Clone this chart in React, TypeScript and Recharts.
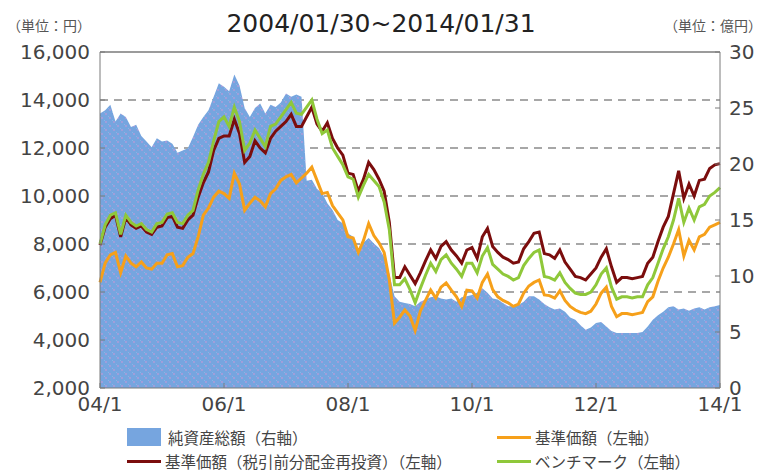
import { ComposedChart, Area, Line, XAxis, YAxis, CartesianGrid, ReferenceLine } from 'recharts';

// 純資産総額（億円）… 2004/1〜2014/1 の月次
const netAssets = [
  24.5, 24.8, 25.3, 23.8, 24.5, 24.2, 23.3, 23.5, 22.5, 22.0, 21.5, 22.3,
  22.0, 22.1, 21.8, 21.0, 21.2, 21.4, 22.4, 23.5, 24.2, 24.8, 26.0, 27.2,
  26.9, 26.5, 28.0, 27.0, 25.0, 24.2, 25.0, 25.4, 24.5, 25.3, 25.1, 25.5,
  26.3, 26.0, 26.2, 26.0, 18.5, 18.6, 17.8, 17.4, 16.5, 15.9, 15.0, 14.7,
  13.8, 13.5, 11.9, 13.0, 13.4, 12.9, 12.5, 11.7, 10.2, 8.2, 7.7, 7.6,
  7.5, 7.3, 7.7, 7.9, 8.1, 8.2, 8.0, 7.9, 8.0, 7.7, 8.1, 8.2,
  8.3, 8.5, 8.9, 8.5, 8.0, 7.9, 7.6, 7.3, 7.3, 7.4, 7.7, 8.2,
  8.2, 7.9, 7.5, 7.2, 7.0, 7.1, 6.8, 6.3, 6.1, 5.6, 5.2, 5.4,
  5.8, 5.9, 5.5, 5.1, 4.9, 4.9, 4.9, 4.9, 4.9, 5.0, 5.5, 6.1,
  6.5, 6.8, 7.2, 7.3, 7.0, 7.1, 6.9, 7.1, 7.2, 7.0, 7.2, 7.3,
  7.4,
];

// 基準価額（円）
const nav = [
  6400, 7200, 7550, 7650, 6800, 7500, 7200, 7050, 7250, 7000, 6950, 7200,
  7200, 7550, 7600, 7050, 7100, 7450, 7600, 8300, 9200, 9500, 9950, 10200,
  10100, 9900, 10950, 10500, 9400, 9700, 9950, 9800, 9550, 10100, 10300, 10650,
  10800, 10900, 10550, 10750, 10950, 11200, 10650, 10100, 10150, 9600, 9300, 9000,
  8300, 8250, 7650, 8150, 8850, 8350, 8050, 7650, 6500, 4700, 4950, 5250,
  5000, 4400, 5200, 5650, 6080, 5750, 6200, 6380, 6080, 5800, 5400, 6080,
  6050, 5750, 6400, 6750, 6100, 5800, 5650, 5550, 5400, 5500, 5950, 6250,
  6400, 6500, 5880, 5850, 5750, 6050, 5650, 5400, 5250, 5150, 5100, 5200,
  5500, 5950, 6200, 5400, 4970, 5100, 5100, 5050, 5100, 5150, 5600, 5800,
  6450, 7000, 7450, 8000, 8600, 7500, 8150, 7750, 8300, 8400, 8700, 8800,
  8900,
];

// 基準価額（税引前分配金再投資）（円）
const navReinvested = [
  7950, 8700, 9050, 9200, 8300, 9100, 8800, 8650, 8750, 8500, 8400, 8700,
  8750, 9100, 9150, 8700, 8650, 9000, 9200, 9950, 10550, 11000, 11900, 12400,
  12500, 12500, 13200, 12600, 11400, 11650, 12300, 12000, 11800, 12400, 12700, 12900,
  13100, 13400, 12900, 12900, 13300, 13700, 13000, 12700, 13050, 12400, 12000, 11700,
  10950, 10900, 10200, 10700, 11400, 11100, 10700, 10200, 8900, 6600, 6600, 7050,
  6700, 6350, 6800, 7300, 7750, 7400, 7900, 8100, 7750, 7500, 7200, 7750,
  7850, 7400, 8300, 8650, 7900, 7650, 7450, 7350, 7200, 7250, 7800, 8100,
  8450, 8500, 7600, 7550, 7400, 7750, 7250, 6950, 6650, 6600, 6500, 6750,
  7000, 7450, 7800, 7050, 6400, 6600, 6600, 6550, 6600, 6650, 7200, 7450,
  8100, 8700, 9150, 10100, 11050, 9900, 10500, 10000, 10650, 10700, 11150, 11300,
  11350,
];

// ベンチマーク（円）
const benchmark = [
  8000, 8800, 9200, 9300, 8400, 9200, 8900, 8750, 8850, 8600, 8500, 8850,
  8900, 9250, 9300, 8900, 8850, 9200, 9400, 10250, 10900, 11400, 12300, 13100,
  13300, 12900, 13700, 13100, 11900, 12200, 12750, 12400, 12050, 12900, 13000, 13300,
  13600, 13900, 13450, 13400, 13700, 14000, 13200, 12600, 12750, 12000, 11650, 11300,
  10800, 10700, 9950, 10450, 10900, 10650, 10400, 9750, 8600, 6300, 6300, 6550,
  6100, 5550, 6150, 6700, 7200, 6850, 7350, 7550, 7200, 6950, 6650, 7200,
  7200, 6800, 7500, 7850, 7150, 6950, 6750, 6650, 6500, 6600, 7100, 7400,
  7650, 7750, 6650, 6600, 6500, 6800, 6400, 6150, 5950, 5900, 5900, 6000,
  6300, 6750, 7000, 6200, 5700, 5800, 5800, 5750, 5800, 5800, 6300, 6600,
  7200, 7800, 8300, 9000, 9900, 8900, 9500, 9000, 9550, 9650, 10000, 10150,
  10350,
];

const xTickMonths = [0, 24, 48, 72, 96, 120];
const xTickLabels = ['04/1', '06/1', '08/1', '10/1', '12/1', '14/1'];
const leftTicks = [2000, 4000, 6000, 8000, 10000, 12000, 14000, 16000];
const rightTicks = [0, 5, 10, 15, 20, 25, 30];
const gridValues = [4000, 6000, 8000, 10000, 12000, 14000];

const chartData = netAssets.map((v, i) => ({
  m: i,
  netAssets: v,
  nav: nav[i],
  navReinvested: navReinvested[i],
  benchmark: benchmark[i],
}));

const AXIS_COLOR = '#7a7a7a';
const TEXT_COLOR = '#444';
const NUM_FONT = '"DejaVu Sans", "Noto Sans CJK JP", sans-serif';
const JP_FONT = '"Noto Sans CJK JP", sans-serif';

const tickStyle = { fontSize: 20, fill: TEXT_COLOR, fontFamily: NUM_FONT };

function LegendLine({ color }: { color: string }) {
  return <div style={{ width: 34, height: 3, background: color }} />;
}

export default function App() {
  return (
    <div style={{ position: 'absolute', left: 0, top: 0, width: 766, height: 472, background: '#fff' }}>
      <ComposedChart
        width={766}
        height={418}
        data={chartData}
        margin={{ top: 52, right: 0, bottom: 0, left: 0 }}
      >
        <defs>
          <pattern id="assetDots" width="8" height="8" patternUnits="userSpaceOnUse">
            <rect width="8" height="8" fill="#76a5df" />
            <rect x="0" y="0" width="1" height="1" fill="#8bb4e6" />
            <rect x="4" y="4" width="1" height="1" fill="#8bb4e6" />
            <circle cx="2" cy="2" r="0.9" fill="#b59bd8" />
            <circle cx="6" cy="6" r="0.9" fill="#b59bd8" />
          </pattern>
        </defs>
        <CartesianGrid
          yAxisId="left"
          vertical={false}
          horizontalValues={gridValues}
          stroke="#8a8a8a"
          strokeWidth={1.5}
          strokeDasharray="8 6"
        />
        <XAxis
          dataKey="m"
          type="number"
          domain={[0, 120]}
          ticks={xTickMonths}
          tickFormatter={(v: number) => xTickLabels[xTickMonths.indexOf(v)]}
          height={30}
          stroke={AXIS_COLOR}
          tick={tickStyle}
          tickSize={-5}
          tickMargin={14}
          interval={0}
        />
        <YAxis
          yAxisId="left"
          orientation="left"
          domain={[2000, 16000]}
          ticks={leftTicks}
          tickFormatter={(v: number) => v.toLocaleString()}
          width={100}
          stroke={AXIS_COLOR}
          tick={tickStyle}
          tickSize={-5}
          tickMargin={15}
          interval={0}
        />
        <YAxis
          yAxisId="right"
          orientation="right"
          domain={[0, 30]}
          ticks={rightTicks}
          width={46}
          stroke={AXIS_COLOR}
          tick={{ ...tickStyle, textAnchor: 'start' }}
          tickSize={-5}
          tickMargin={14}
          interval={0}
        />
        <Area
          yAxisId="right"
          dataKey="netAssets"
          type="linear"
          fill="url(#assetDots)"
          fillOpacity={1}
          stroke="none"
          isAnimationActive={false}
        />
        <ReferenceLine yAxisId="left" y={16000} stroke={AXIS_COLOR} strokeWidth={1.5} />
        <Line yAxisId="left" dataKey="nav" type="linear" stroke="#f6a01a" strokeWidth={3} dot={false} isAnimationActive={false} />
        <Line yAxisId="left" dataKey="navReinvested" type="linear" stroke="#7b0d0d" strokeWidth={3} dot={false} isAnimationActive={false} />
        <Line yAxisId="left" dataKey="benchmark" type="linear" stroke="#8fc83a" strokeWidth={3} dot={false} isAnimationActive={false} />
      </ComposedChart>

      {/* タイトル・単位 */}
      <svg width={766} height={50} style={{ position: 'absolute', left: 0, top: 0 }}>
        <text x={381} y={32} textAnchor="middle" fontSize={25} fill="#222" fontFamily={NUM_FONT}>
          2004/01/30~2014/01/31
        </text>
        <text x={7} y={31} fontSize={14} fill="#555" fontFamily={JP_FONT}>（単位：円）</text>
        <text x={664} y={31} fontSize={14} fill="#555" fontFamily={JP_FONT}>（単位：億円）</text>
      </svg>

      {/* 凡例 */}
      <div style={{ position: 'absolute', left: 127, top: 428, display: 'flex', alignItems: 'center', fontFamily: JP_FONT, fontSize: 15.5, color: TEXT_COLOR }}>
        <div style={{ width: 34, height: 18, background: '#76a5df' }} />
        <span style={{ marginLeft: 7, lineHeight: '18px' }}>純資産総額（右軸）</span>
      </div>
      <div style={{ position: 'absolute', left: 497, top: 428, display: 'flex', alignItems: 'center', fontFamily: JP_FONT, fontSize: 15.5, color: TEXT_COLOR }}>
        <LegendLine color="#f6a01a" />
        <span style={{ marginLeft: 4, lineHeight: '18px' }}>基準価額（左軸）</span>
      </div>
      <div style={{ position: 'absolute', left: 127, top: 452, display: 'flex', alignItems: 'center', fontFamily: JP_FONT, fontSize: 15.5, color: TEXT_COLOR }}>
        <LegendLine color="#7b0d0d" />
        <span style={{ marginLeft: 4, lineHeight: '18px' }}>基準価額（税引前分配金再投資）（左軸）</span>
      </div>
      <div style={{ position: 'absolute', left: 497, top: 452, display: 'flex', alignItems: 'center', fontFamily: JP_FONT, fontSize: 15.5, color: TEXT_COLOR }}>
        <LegendLine color="#8fc83a" />
        <span style={{ marginLeft: 4, lineHeight: '18px' }}>ベンチマーク（左軸）</span>
      </div>
    </div>
  );
}
